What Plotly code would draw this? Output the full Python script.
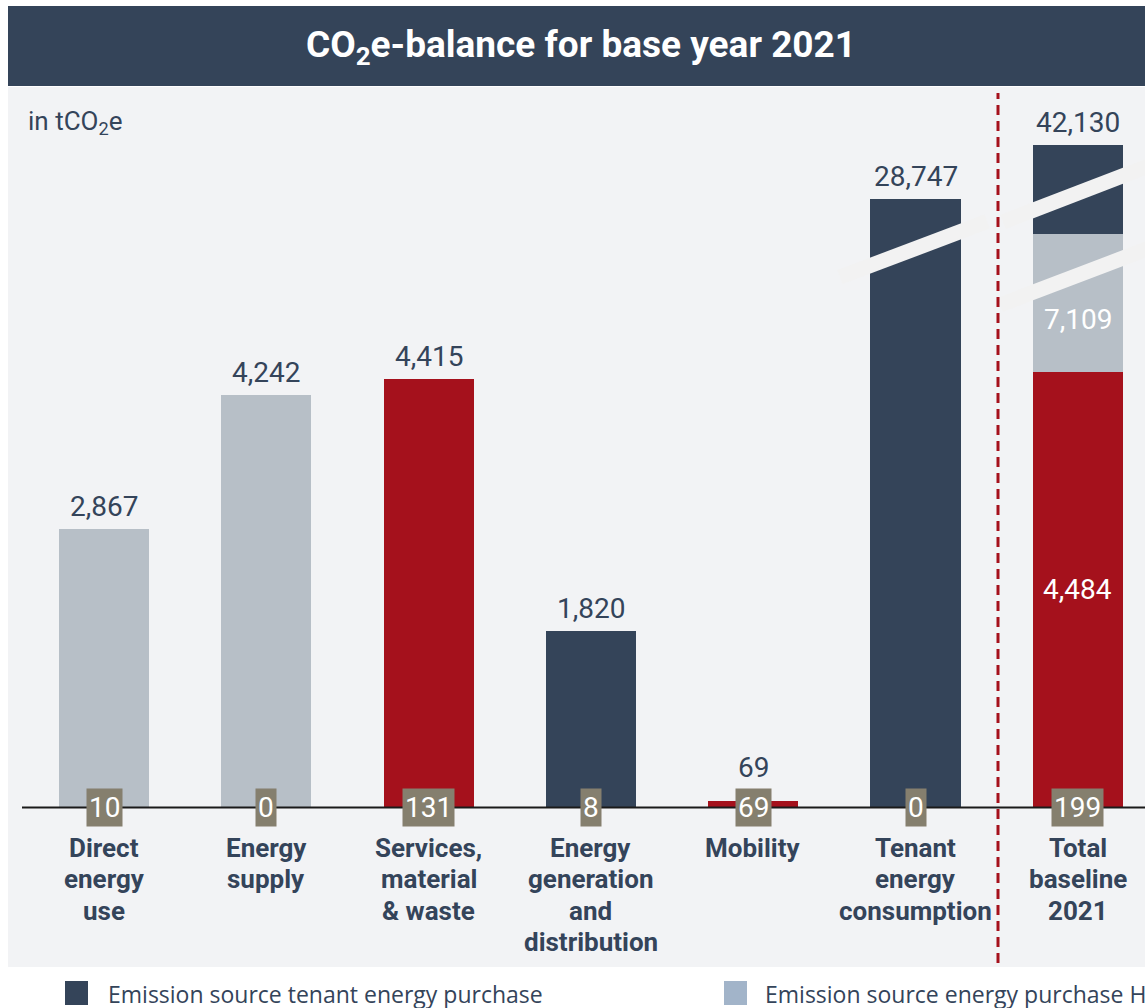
import plotly.graph_objects as go

# ---------------- data ----------------
categories = [
    "Direct<br>energy<br>use",
    "Energy<br>supply",
    "Services,<br>material<br>& waste",
    "Energy<br>generation<br>and<br>distribution",
    "Mobility",
    "Tenant<br>energy<br>consumption",
    "Total<br>baseline<br>2021",
]
category_values = [2867, 4242, 4415, 1820, 69, 28747]
baseline_badges = [10, 0, 131, 8, 69, 0, 199]
total_value = 42130
total_red = category_values[2] + category_values[4]      # 4,484
total_gray = category_values[0] + category_values[1]     # 7,109
total_navy = total_value - total_red - total_gray

legend_labels = [
    "Emission source tenant energy purchase",
    "Emission source energy purchase H",
]

# axis break (hidden part of the broken bars)
cut_tenant = 22483
cut_total_gray = 5691
cut_total_navy = 29621

# ---------------- styling ----------------
NAVY = "#344459"
GRAY = "#b7bfc7"
RED = "#a5111c"
BADGE = "#857f6e"
PANEL = "#f2f3f5"
BAND = "#f2f2f2"
TEXT = "#34445a"
LEG2 = "#a2b4c9"
bar_colors = [GRAY, GRAY, RED, NAVY, RED, NAVY]

W, H = 1145, 1008
PX_X = 162.3          # px per category
PX_Y = 0.09714        # px per tCO2e
X0_PX = 104
Y0_PX = 807.5
PANEL_L, PANEL_T, PANEL_B = 8, 87, 967

xmin = -(X0_PX - PANEL_L) / PX_X
xmax = (W - X0_PX) / PX_X
ymin = -(PANEL_B - Y0_PX) / PX_Y
ymax = (Y0_PX - PANEL_T) / PX_Y

def dx(px):  # pixel -> x data
    return (px - X0_PX) / PX_X

def dy(py):  # pixel -> y data
    return (Y0_PX - py) / PX_Y

cuts = [0, 0, 0, 0, 0, cut_tenant]
disp = [v - c for v, c in zip(category_values, cuts)]
red_d = total_red
gray_d = total_gray - cut_total_gray
navy_d = total_navy - cut_total_navy

fig = go.Figure()
xs = list(range(len(category_values)))
fig.add_trace(go.Bar(x=xs, y=disp, marker_color=bar_colors, marker_line_width=0,
                     width=0.555, hoverinfo="skip"))
fig.add_trace(go.Bar(x=[6], y=[red_d], marker_color=RED, width=0.555, marker_line_width=0, hoverinfo="skip"))
fig.add_trace(go.Bar(x=[6], y=[gray_d], marker_color=GRAY, width=0.555, marker_line_width=0, hoverinfo="skip"))
fig.add_trace(go.Bar(x=[6], y=[navy_d], marker_color=NAVY, width=0.555, marker_line_width=0, hoverinfo="skip"))

shapes = []
# title bar
shapes.append(dict(type="rect", xref="paper", yref="paper", x0=PANEL_L / W, x1=1,
                   y0=1 - 86 / H, y1=1 - 6 / H, fillcolor=NAVY, line_width=0, layer="below"))
# baseline
shapes.append(dict(type="line", xref="x", yref="y", x0=dx(22), x1=xmax + 1, y0=0, y1=0,
                   line=dict(color="#1a1a1a", width=2)))
# break bands
for (x1p, y1p, x2p, y2p) in [(840, 277, 987, 221.6), (1003, 221.9, 1170, 157.6), (1000, 304.9, 1170, 240.1)]:
    shapes.append(dict(type="line", xref="x", yref="y", x0=dx(x1p), y0=dy(y1p), x1=dx(x2p), y1=dy(y2p),
                       line=dict(color=BAND, width=15)))
# dashed separator
shapes.append(dict(type="line", xref="x", yref="paper", x0=dx(998), x1=dx(998),
                   y0=1 - 963 / H, y1=1 - 93 / H, line=dict(color=RED, width=3, dash="10px,6px")))
# legend squares
for xl, col in [(65, NAVY), (724, LEG2)]:
    shapes.append(dict(type="rect", xref="paper", yref="paper", x0=xl / W, x1=(xl + 23) / W,
                       y0=1 - 1005 / H, y1=1 - 981 / H, fillcolor=col, line_width=0))

ann = []
# title
ann.append(dict(text="CO<sub>2</sub>e-balance for base year 2021", xref="paper", yref="paper",
                x=581 / W, y=1 - 47 / H, xanchor="center", yanchor="middle", showarrow=False,
                font=dict(family="Roboto", size=37, color="white", weight="bold")))
# unit
ann.append(dict(text="in tCO<sub>2</sub>e", xref="paper", yref="paper", x=26 / W, y=1 - 122 / H,
                xanchor="left", yanchor="middle", showarrow=False,
                font=dict(family="Roboto", size=26, color=TEXT)))
# value labels above bars (kept clear of the baseline badges)
BADGE_TOP_SHIFT = 40
for i, v in enumerate(category_values):
    shift = max(22.5 + disp[i] * PX_Y, BADGE_TOP_SHIFT) - disp[i] * PX_Y
    ann.append(dict(text=f"{v:,}", x=i, y=disp[i], yshift=shift, xanchor="center", yanchor="middle",
                    showarrow=False, font=dict(family="Roboto", size=28, color=TEXT)))
ann.append(dict(text=f"{total_value:,}", x=6, y=red_d + gray_d + navy_d, yshift=22.5, xanchor="center",
                yanchor="middle", showarrow=False, font=dict(family="Roboto", size=28, color=TEXT)))
# inside labels
ann.append(dict(text=f"{total_red:,}", x=6, y=red_d / 2, xanchor="center", yanchor="middle",
                showarrow=False, font=dict(family="Roboto", size=28, color="white")))
ann.append(dict(text=f"{total_gray:,}", x=6, y=red_d + gray_d * 0.377, xanchor="center", yanchor="middle",
                showarrow=False, font=dict(family="Roboto", size=28, color="white")))
# baseline badges
for i, b in enumerate(baseline_badges):
    ann.append(dict(text=str(b), x=i, y=0, xanchor="center", yanchor="middle", showarrow=False,
                    bgcolor=BADGE, borderpad=2, font=dict(family="Roboto", size=28, color="white")))
# category labels (one annotation per line)
for i, lab in enumerate(categories):
    for j, line in enumerate(lab.split("<br>")):
        ann.append(dict(text=line, x=i, y=0, yshift=-40 - 31.5 * j, xanchor="center", yanchor="middle",
                        showarrow=False, font=dict(family="Roboto", size=26, color=TEXT, weight="bold")))
# legend texts
for xl, lab in [(106, legend_labels[0]), (763, legend_labels[1])]:
    ann.append(dict(text=lab, xref="paper", yref="paper", x=xl / W, y=1 - 994 / H, xanchor="left",
                    yanchor="middle", showarrow=False,
                    font=dict(family="Open Sans", size=23, color=TEXT)))

fig.update_layout(
    width=W, height=H, margin=dict(l=0, r=0, t=0, b=0),
    paper_bgcolor="white", plot_bgcolor=PANEL,
    barmode="stack", bargap=0, showlegend=False,
    xaxis=dict(domain=[PANEL_L / W, 1], range=[xmin, xmax], visible=False, fixedrange=True),
    yaxis=dict(domain=[1 - PANEL_B / H, 1 - PANEL_T / H], range=[ymin, ymax], visible=False, fixedrange=True),
    shapes=shapes, annotations=ann, hovermode=False,
)

fig.write_html("out.html", config={"displayModeBar": False})
